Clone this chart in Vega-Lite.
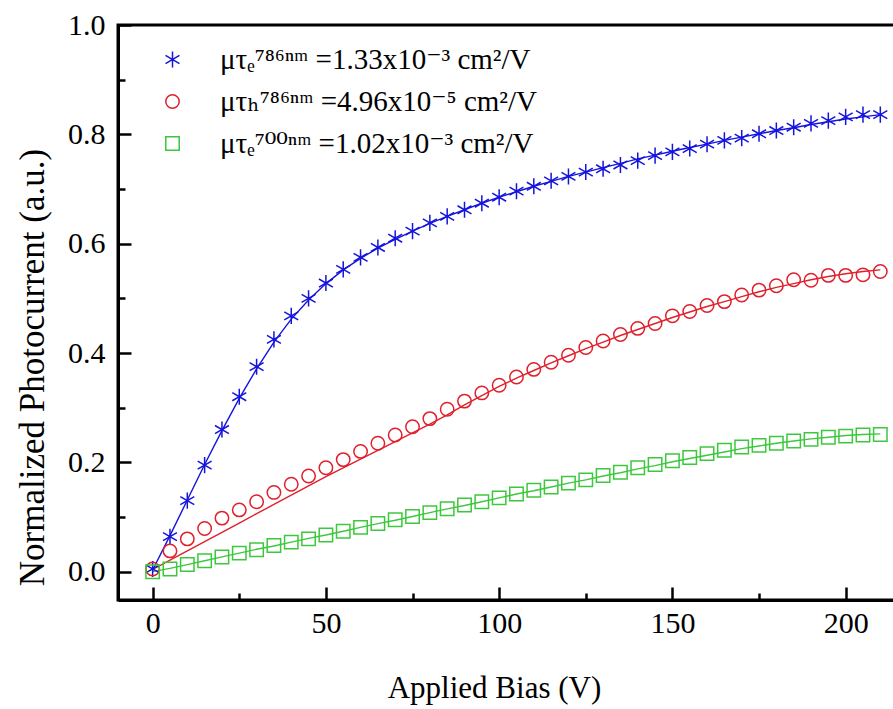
{
  "$schema": "https://vega.github.io/schema/vega-lite/v6.json",
  "width": 777,
  "height": 575,
  "autosize": {"type": "none"},
  "padding": {"left": 118, "top": 25, "right": 0, "bottom": 109},
  "background": "white",
  "config": {
    "view": {"stroke": "black", "strokeWidth": 3},
    "font": "Liberation Serif",
    "axis": {
      "grid": false,
      "domainColor": "black",
      "domainWidth": 3,
      "tickColor": "black",
      "tickWidth": 2.5,
      "labelFont": "Liberation Serif",
      "labelFontSize": 30,
      "labelColor": "black",
      "titleFont": "Liberation Serif",
      "titleFontSize": 31,
      "titleFontWeight": "normal",
      "titleColor": "black"
    },
    "legend": {"labelFont": "Liberation Serif, DejaVu Serif"}
  },
  "datasets": {
    "pts": [
      {"series": "e786", "V": 0, "I": 0.005, "fit": 0.003},
      {"series": "e786", "V": 5, "I": 0.064, "fit": 0.066},
      {"series": "e786", "V": 10, "I": 0.13, "fit": 0.131},
      {"series": "e786", "V": 15, "I": 0.195, "fit": 0.196},
      {"series": "e786", "V": 20, "I": 0.26, "fit": 0.258},
      {"series": "e786", "V": 25, "I": 0.32, "fit": 0.317},
      {"series": "e786", "V": 30, "I": 0.375, "fit": 0.371},
      {"series": "e786", "V": 35, "I": 0.425, "fit": 0.42},
      {"series": "e786", "V": 40, "I": 0.468, "fit": 0.462},
      {"series": "e786", "V": 45, "I": 0.5, "fit": 0.497},
      {"series": "e786", "V": 50, "I": 0.528, "fit": 0.527},
      {"series": "e786", "V": 55, "I": 0.553, "fit": 0.552},
      {"series": "e786", "V": 60, "I": 0.575, "fit": 0.573},
      {"series": "e786", "V": 65, "I": 0.593, "fit": 0.592},
      {"series": "e786", "V": 70, "I": 0.61, "fit": 0.608},
      {"series": "e786", "V": 75, "I": 0.623, "fit": 0.623},
      {"series": "e786", "V": 80, "I": 0.638, "fit": 0.637},
      {"series": "e786", "V": 85, "I": 0.65, "fit": 0.65},
      {"series": "e786", "V": 90, "I": 0.662, "fit": 0.662},
      {"series": "e786", "V": 95, "I": 0.674, "fit": 0.674},
      {"series": "e786", "V": 100, "I": 0.685, "fit": 0.685},
      {"series": "e786", "V": 105, "I": 0.696, "fit": 0.695},
      {"series": "e786", "V": 110, "I": 0.705, "fit": 0.705},
      {"series": "e786", "V": 115, "I": 0.715, "fit": 0.714},
      {"series": "e786", "V": 120, "I": 0.723, "fit": 0.723},
      {"series": "e786", "V": 125, "I": 0.731, "fit": 0.731},
      {"series": "e786", "V": 130, "I": 0.737, "fit": 0.739},
      {"series": "e786", "V": 135, "I": 0.744, "fit": 0.747},
      {"series": "e786", "V": 140, "I": 0.752, "fit": 0.755},
      {"series": "e786", "V": 145, "I": 0.761, "fit": 0.762},
      {"series": "e786", "V": 150, "I": 0.768, "fit": 0.769},
      {"series": "e786", "V": 155, "I": 0.774, "fit": 0.776},
      {"series": "e786", "V": 160, "I": 0.782, "fit": 0.782},
      {"series": "e786", "V": 165, "I": 0.789, "fit": 0.789},
      {"series": "e786", "V": 170, "I": 0.793, "fit": 0.795},
      {"series": "e786", "V": 175, "I": 0.801, "fit": 0.801},
      {"series": "e786", "V": 180, "I": 0.807, "fit": 0.807},
      {"series": "e786", "V": 185, "I": 0.813, "fit": 0.812},
      {"series": "e786", "V": 190, "I": 0.82, "fit": 0.818},
      {"series": "e786", "V": 195, "I": 0.825, "fit": 0.823},
      {"series": "e786", "V": 200, "I": 0.832, "fit": 0.828},
      {"series": "e786", "V": 205, "I": 0.836, "fit": 0.832},
      {"series": "e786", "V": 210, "I": 0.836, "fit": 0.836},
      {"series": "h786", "V": 0, "I": 0.005, "fit": 0.004},
      {"series": "h786", "V": 5, "I": 0.038, "fit": 0.021},
      {"series": "h786", "V": 10, "I": 0.06, "fit": 0.038},
      {"series": "h786", "V": 15, "I": 0.079, "fit": 0.055},
      {"series": "h786", "V": 20, "I": 0.098, "fit": 0.072},
      {"series": "h786", "V": 25, "I": 0.113, "fit": 0.089},
      {"series": "h786", "V": 30, "I": 0.128, "fit": 0.106},
      {"series": "h786", "V": 35, "I": 0.145, "fit": 0.123},
      {"series": "h786", "V": 40, "I": 0.16, "fit": 0.14},
      {"series": "h786", "V": 45, "I": 0.175, "fit": 0.157},
      {"series": "h786", "V": 50, "I": 0.19, "fit": 0.174},
      {"series": "h786", "V": 55, "I": 0.205, "fit": 0.19},
      {"series": "h786", "V": 60, "I": 0.22, "fit": 0.206},
      {"series": "h786", "V": 65, "I": 0.235, "fit": 0.222},
      {"series": "h786", "V": 70, "I": 0.25, "fit": 0.238},
      {"series": "h786", "V": 75, "I": 0.265, "fit": 0.254},
      {"series": "h786", "V": 80, "I": 0.28, "fit": 0.27},
      {"series": "h786", "V": 85, "I": 0.297, "fit": 0.287},
      {"series": "h786", "V": 90, "I": 0.312, "fit": 0.305},
      {"series": "h786", "V": 95, "I": 0.327, "fit": 0.322},
      {"series": "h786", "V": 100, "I": 0.341, "fit": 0.339},
      {"series": "h786", "V": 105, "I": 0.356, "fit": 0.354},
      {"series": "h786", "V": 110, "I": 0.37, "fit": 0.368},
      {"series": "h786", "V": 115, "I": 0.383, "fit": 0.382},
      {"series": "h786", "V": 120, "I": 0.396, "fit": 0.395},
      {"series": "h786", "V": 125, "I": 0.41, "fit": 0.408},
      {"series": "h786", "V": 130, "I": 0.422, "fit": 0.42},
      {"series": "h786", "V": 135, "I": 0.434, "fit": 0.432},
      {"series": "h786", "V": 140, "I": 0.445, "fit": 0.443},
      {"series": "h786", "V": 145, "I": 0.454, "fit": 0.454},
      {"series": "h786", "V": 150, "I": 0.468, "fit": 0.465},
      {"series": "h786", "V": 155, "I": 0.476, "fit": 0.475},
      {"series": "h786", "V": 160, "I": 0.487, "fit": 0.485},
      {"series": "h786", "V": 165, "I": 0.494, "fit": 0.494},
      {"series": "h786", "V": 170, "I": 0.506, "fit": 0.503},
      {"series": "h786", "V": 175, "I": 0.515, "fit": 0.512},
      {"series": "h786", "V": 180, "I": 0.523, "fit": 0.52},
      {"series": "h786", "V": 185, "I": 0.534, "fit": 0.527},
      {"series": "h786", "V": 190, "I": 0.533, "fit": 0.534},
      {"series": "h786", "V": 195, "I": 0.542, "fit": 0.54},
      {"series": "h786", "V": 200, "I": 0.542, "fit": 0.545},
      {"series": "h786", "V": 205, "I": 0.543, "fit": 0.549},
      {"series": "h786", "V": 210, "I": 0.549, "fit": 0.552},
      {"series": "e700", "V": 0, "I": 0.0, "fit": 0.0},
      {"series": "e700", "V": 5, "I": 0.005, "fit": 0.006},
      {"series": "e700", "V": 10, "I": 0.013, "fit": 0.013},
      {"series": "e700", "V": 15, "I": 0.02, "fit": 0.02},
      {"series": "e700", "V": 20, "I": 0.027, "fit": 0.027},
      {"series": "e700", "V": 25, "I": 0.034, "fit": 0.034},
      {"series": "e700", "V": 30, "I": 0.04, "fit": 0.041},
      {"series": "e700", "V": 35, "I": 0.048, "fit": 0.047},
      {"series": "e700", "V": 40, "I": 0.054, "fit": 0.054},
      {"series": "e700", "V": 45, "I": 0.06, "fit": 0.061},
      {"series": "e700", "V": 50, "I": 0.067, "fit": 0.067},
      {"series": "e700", "V": 55, "I": 0.074, "fit": 0.074},
      {"series": "e700", "V": 60, "I": 0.081, "fit": 0.081},
      {"series": "e700", "V": 65, "I": 0.088, "fit": 0.088},
      {"series": "e700", "V": 70, "I": 0.095, "fit": 0.094},
      {"series": "e700", "V": 75, "I": 0.101, "fit": 0.101},
      {"series": "e700", "V": 80, "I": 0.108, "fit": 0.108},
      {"series": "e700", "V": 85, "I": 0.115, "fit": 0.115},
      {"series": "e700", "V": 90, "I": 0.122, "fit": 0.121},
      {"series": "e700", "V": 95, "I": 0.128, "fit": 0.128},
      {"series": "e700", "V": 100, "I": 0.135, "fit": 0.135},
      {"series": "e700", "V": 105, "I": 0.142, "fit": 0.142},
      {"series": "e700", "V": 110, "I": 0.149, "fit": 0.148},
      {"series": "e700", "V": 115, "I": 0.155, "fit": 0.155},
      {"series": "e700", "V": 120, "I": 0.162, "fit": 0.162},
      {"series": "e700", "V": 125, "I": 0.168, "fit": 0.168},
      {"series": "e700", "V": 130, "I": 0.176, "fit": 0.175},
      {"series": "e700", "V": 135, "I": 0.182, "fit": 0.181},
      {"series": "e700", "V": 140, "I": 0.19, "fit": 0.188},
      {"series": "e700", "V": 145, "I": 0.196, "fit": 0.194},
      {"series": "e700", "V": 150, "I": 0.203, "fit": 0.201},
      {"series": "e700", "V": 155, "I": 0.209, "fit": 0.207},
      {"series": "e700", "V": 160, "I": 0.216, "fit": 0.213},
      {"series": "e700", "V": 165, "I": 0.222, "fit": 0.219},
      {"series": "e700", "V": 170, "I": 0.228, "fit": 0.225},
      {"series": "e700", "V": 175, "I": 0.231, "fit": 0.23},
      {"series": "e700", "V": 180, "I": 0.235, "fit": 0.235},
      {"series": "e700", "V": 185, "I": 0.239, "fit": 0.239},
      {"series": "e700", "V": 190, "I": 0.242, "fit": 0.243},
      {"series": "e700", "V": 195, "I": 0.246, "fit": 0.246},
      {"series": "e700", "V": 200, "I": 0.248, "fit": 0.249},
      {"series": "e700", "V": 205, "I": 0.25, "fit": 0.251},
      {"series": "e700", "V": 210, "I": 0.251, "fit": 0.252}
    ]
  },
  "data": {"name": "pts"},
  "layer": [
    {
      "transform": [{"filter": "datum.series === 'e786'"}],
      "mark": {"type": "line", "strokeWidth": 1.4, "color": "#1414dc"},
      "encoding": {
        "x": {"field": "V", "type": "quantitative"},
        "y": {"field": "fit", "type": "quantitative"}
      }
    },
    {
      "transform": [{"filter": "datum.series === 'h786'"}],
      "mark": {"type": "line", "strokeWidth": 1.4, "color": "#e0202c"},
      "encoding": {
        "x": {"field": "V", "type": "quantitative"},
        "y": {"field": "fit", "type": "quantitative"}
      }
    },
    {
      "transform": [{"filter": "datum.series === 'e700'"}],
      "mark": {"type": "line", "strokeWidth": 1.4, "color": "#3cc83c"},
      "encoding": {
        "x": {"field": "V", "type": "quantitative"},
        "y": {"field": "fit", "type": "quantitative"}
      }
    },
    {
      "mark": {"type": "point", "filled": false, "size": 180, "strokeWidth": 1.5, "opacity": 1},
      "encoding": {
        "x": {
          "field": "V",
          "type": "quantitative",
          "scale": {"domain": [-10, 214.24], "nice": false, "zero": false},
          "axis": {
            "title": "Applied Bias (V)",
            "values": [0, 25, 50, 75, 100, 125, 150, 175, 200],
            "tickSize": {"condition": {"test": "datum.value % 50 === 0", "value": -13}, "value": -7},
            "labelExpr": "datum.value % 50 === 0 ? datum.label : ''",
            "labelFont": "Liberation Serif",
            "labelFontSize": 30,
            "labelPadding": 21,
            "titleFont": "Liberation Serif",
            "titleX": 376,
            "titleY": 88,
            "titleBaseline": "middle",
            "titleAnchor": "middle"
          }
        },
        "y": {
          "field": "I",
          "type": "quantitative",
          "scale": {"domain": [-0.0518, 1.0], "nice": false, "zero": false},
          "axis": {
            "title": "Normalized Photocurrent (a.u.)",
            "values": [0, 0.1, 0.2, 0.3, 0.4, 0.5, 0.6, 0.7, 0.8, 0.9, 1.0],
            "format": ".1f",
            "tickSize": {"condition": {"test": "round(datum.value * 10) % 2 === 0", "value": -13}, "value": -7},
            "labelExpr": "round(datum.value * 10) % 2 === 0 ? datum.label : ''",
            "labelFont": "Liberation Serif",
            "labelFontSize": 30,
            "labelPadding": 26,
            "titleFont": "Liberation Serif",
            "titleFontSize": 35,
            "titleX": -86,
            "titleY": 342,
            "titleBaseline": "middle",
            "titleAnchor": "middle"
          }
        },
        "color": {
          "field": "series",
          "type": "nominal",
          "scale": {"domain": ["e786", "h786", "e700"], "range": ["#1414dc", "#e0202c", "#3cc83c"]},
          "legend": {
            "orient": "none",
            "legendX": 40,
            "legendY": 20,
            "title": null,
            "padding": 0,
            "symbolSize": 180,
            "symbolStrokeWidth": 1.5,
            "labelFont": "Liberation Serif, DejaVu Serif",
            "labelFontSize": 29,
            "labelColor": "black",
            "labelLimit": 600,
            "labelOffset": 33,
            "rowPadding": 12,
            "labelExpr": "datum.value === 'e786' ? 'μτₑ⁷⁸⁶ⁿᵐ =1.33x10⁻³ cm²/V' : datum.value === 'h786' ? 'μτₕ⁷⁸⁶ⁿᵐ =4.96x10⁻⁵ cm²/V' : 'μτₑ⁷⁰⁰ⁿᵐ =1.02x10⁻³ cm²/V'"
          }
        },
        "shape": {
          "field": "series",
          "type": "nominal",
          "scale": {"domain": ["e786", "h786", "e700"], "range": ["M0,-1.2L0,1.2M-1.04,-0.6L1.04,0.6M-1.04,0.6L1.04,-0.6", "circle", "square"]}
        }
      }
    }
  ]
}
